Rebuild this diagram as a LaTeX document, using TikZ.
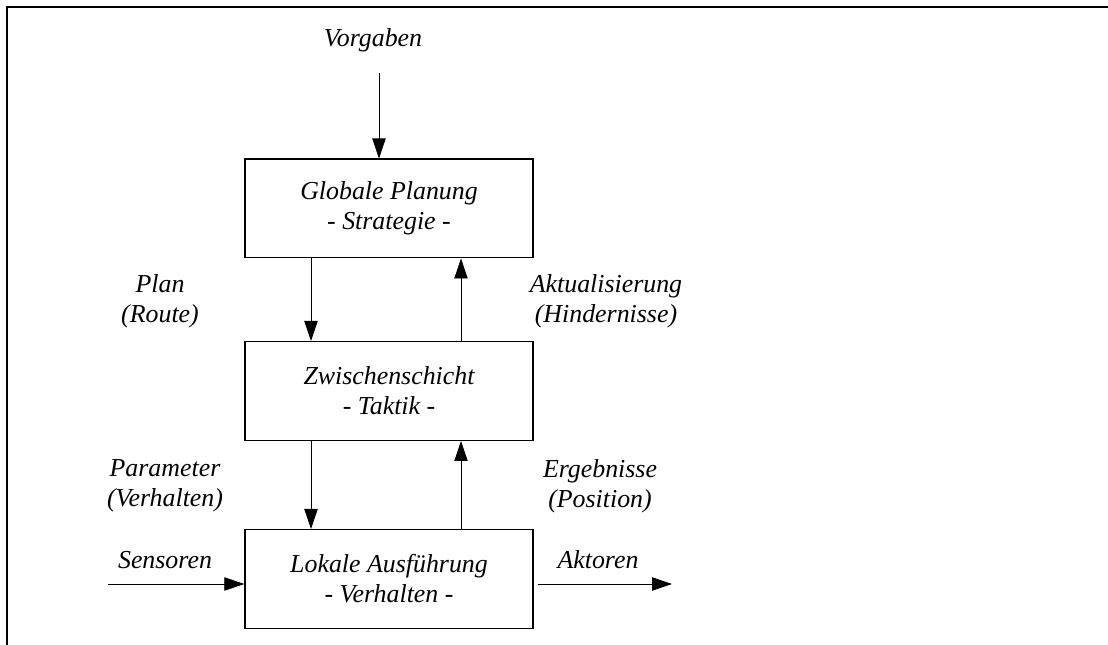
\documentclass[tikz,border=0pt]{standalone}
\usepackage{fontspec}
\setmainfont{Liberation Serif}
\usetikzlibrary{arrows.meta}
\tikzset{
  schicht/.style={draw, line width=1pt, minimum width=216pt, minimum height=74pt, align=center, inner sep=0pt},
  pfeil/.style={-{Triangle[length=15pt,width=10pt]}, line width=0.6pt},
  beschr/.style={align=center, inner sep=0pt},
}
\begin{document}
\begin{tikzpicture}[x=0.75pt,y=-0.75pt,font=\fontsize{19.4}{22.5}\selectfont\itshape]
\useasboundingbox (0,0) rectangle (1108,645);
% Rahmen
\draw[line width=1pt] (7,645) -- (7,7) -- (1108,7);
% Schichten
\node[schicht] (glob) at (389,208.5) {Globale Planung\\- Strategie -};
\node[schicht] (zwi) at (389,391) {Zwischenschicht\\- Taktik -};
\node[schicht] (lok) at (389,579) {Lokale Ausführung\\- Verhalten -};
% Beschriftungen
\node[beschr, anchor=base] (vorg) at (373,47) {Vorgaben};
\node[beschr] (plan) at (160,301) {Plan\\(Route)};
\node[beschr] (akt) at (606,301) {Aktualisierung\\(Hindernisse)};
\node[beschr] (param) at (165,486) {Parameter\\(Verhalten)};
\node[beschr] (erg) at (600,486) {Ergebnisse\\(Position)};
\node[beschr, anchor=base] (sens) at (165,568) {Sensoren};
\node[beschr, anchor=base] (aktor) at (598,568) {Aktoren};
% Pfeilpositionen
\coordinate (vstart) at (379,73);
\coordinate (sstart) at (108,584);
\coordinate (aende) at (672,584);
\coordinate (ab) at (311,0);
\coordinate (auf) at (461,0);
% Pfeile
\draw[pfeil] (vstart) -- (vstart |- glob.north);
\draw[pfeil] (glob.south -| ab) -- (zwi.north -| ab);
\draw[pfeil] (zwi.north -| auf) -- (glob.south -| auf);
\draw[pfeil] (zwi.south -| ab) -- (lok.north -| ab);
\draw[pfeil] (lok.north -| auf) -- (zwi.south -| auf);
\draw[pfeil] (sstart) -- (sstart -| lok.west);
\draw[pfeil, shorten <=3pt] (lok.east |- aende) -- (aende);
\end{tikzpicture}
\end{document}
